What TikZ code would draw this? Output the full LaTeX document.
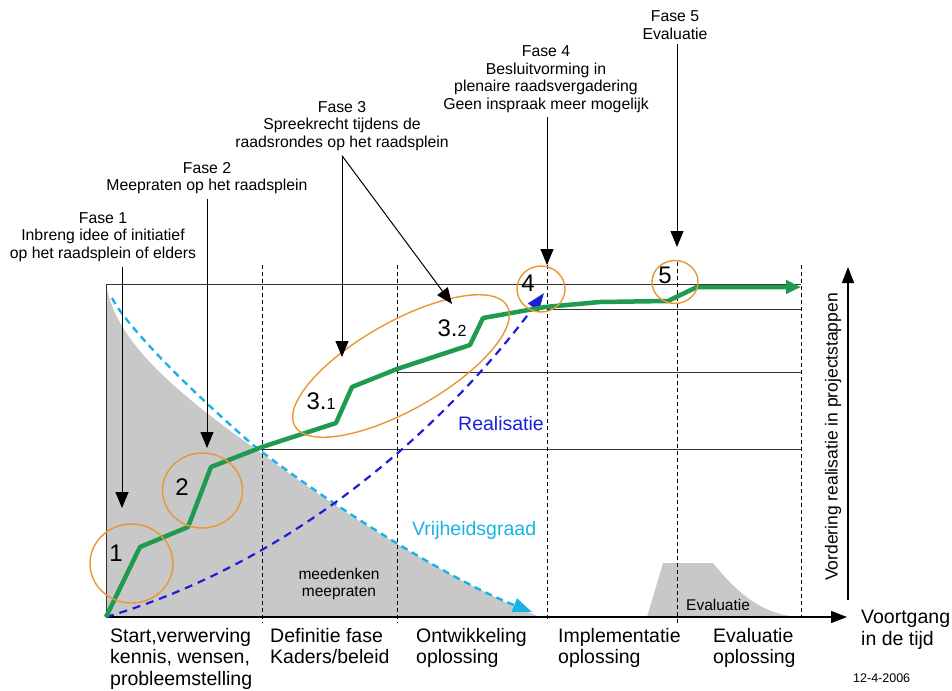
\documentclass[tikz,border=0pt]{standalone}
\usepackage{fontspec}
\setmainfont{Liberation Sans}
\usetikzlibrary{arrows.meta}
\definecolor{lijngroen}{RGB}{30,155,80}
\definecolor{ringoranje}{RGB}{235,150,50}
\definecolor{vlakgrijs}{RGB}{200,200,200}
\definecolor{vrijcyaan}{RGB}{25,178,230}
\definecolor{realblauw}{RGB}{30,30,215}

\begin{document}
\begin{tikzpicture}[x=1pt, y=-1pt,
    fase/.style={align=center, inner sep=0pt, outer sep=5pt, font=\fontsize{15.8}{17.5}\selectfont},
    stap/.style={align=left, anchor=north west, inner sep=0pt, font=\fontsize{19.5}{21.5}\selectfont},
    nummer/.style={inner sep=0pt, font=\fontsize{24}{24}\selectfont},
    klein/.style={inner sep=0pt, font=\fontsize{15.5}{17}\selectfont},
    ring/.style={draw=ringoranje, line width=1.4pt},
    pijl/.style={-{Triangle[length=16pt,width=13pt]}, line width=1pt},
    as/.style={-{Triangle[length=16pt,width=12pt]}, line width=1.2pt},
    raster/.style={line width=0.9pt, draw=black!80},
    streep/.style={line width=0.9pt, dash pattern=on 4pt off 3pt}
]
\useasboundingbox (0,0) rectangle (952,690);

\fill[vlakgrijs] (106,284) .. controls (114,330) and (150,375) .. (257,450)
    .. controls (350,520) and (460,585) .. (540,617) -- (106,617) -- cycle;
\fill[vlakgrijs] (647,617) -- (663,563) -- (713,563) .. controls (735,590) and (760,615) .. (800,617) -- cycle;

\draw[raster] (106,617) -- (106,284) -- (801,284);
\draw[raster] (547,309) -- (801,309);
\draw[raster] (397,372) -- (801,372);
\draw[raster] (262,449) -- (801,449);
\foreach \x/\a/\b in {262/265/623, 397/265/623, 547/265/622, 677/262/623, 801/265/617}
    \draw[streep] (\x,\a) -- (\x,\b);

\draw[as] (106,617) -- (847,617);
\draw[as] (848,600) -- (848,267);

\draw[vrijcyaan, line width=2.4pt, dash pattern=on 7pt off 5pt, -{Triangle[length=19pt,width=14pt]}]
    (112,298) .. controls (122,318) and (165,368) .. (253,445)
    .. controls (330,505) and (450,580) .. (532,612);
\draw[realblauw, line width=2.2pt, dash pattern=on 8pt off 6pt, -{Triangle[length=18pt,width=13pt]}]
    (106,617) .. controls (300,560) and (450,420) .. (544,293);

\draw[lijngroen, line width=4.5pt, line join=round, -{Triangle[length=15pt,width=13pt]}]
    plot coordinates {(106,617) (140,547) (188,527) (211,467) (262,447) (336,423) (352,387) (397,369) (470,345) (483,318) (545,307) (600,302) (668,301) (697,287) (801,287)};

\draw[ring] (131.5,563.5) ellipse [x radius=41.5pt, y radius=39.5pt];
\draw[ring] (202.5,490.5) ellipse [x radius=40pt, y radius=37.5pt];
\draw[ring, rotate around={29.5:(401,366)}] (401,366) ellipse [x radius=122pt, y radius=44pt];
\draw[ring] (541,289) ellipse [x radius=24pt, y radius=23pt];
\draw[ring] (675,282) ellipse [x radius=23pt, y radius=21.5pt];

\node[nummer] (n1) at (116,553) {1};
\node[nummer] (n2) at (182,487) {2};
\node[nummer] (n31) at (321,401) {3.{\fontsize{16}{16}\selectfont 1}};
\node[nummer] (n32) at (452,328) {3.{\fontsize{16}{16}\selectfont 2}};
\node[nummer] (n4) at (528,283) {4};
\node[nummer] (n5) at (665,275) {5};

\node[fase] (fase1) at (103,237) {Fase 1\\Inbreng idee of initiatief\\op het raadsplein of elders};
\node[fase] (fase2) at (207,178) {Fase 2\\Meepraten op het raadsplein};
\node[fase] (fase3) at (342,126) {Fase 3\\Spreekrecht tijdens de\\raadsrondes op het raadsplein};
\node[fase] (fase4) at (546,79) {Fase 4\\Besluitvorming in\\plenaire raadsvergadering\\Geen inspraak meer mogelijk};
\node[fase] (fase5) at (675,25) {Fase 5\\Evaluatie};

\coordinate (tip1) at (122,508);
\coordinate (tip2) at (207,448);
\coordinate (tip31) at (342,357);
\coordinate (tip32) at (452,304);
\coordinate (tip4) at (547,265);
\coordinate (tip5) at (677,247);
\draw[pijl] (fase1.south -| tip1) -- (tip1);
\draw[pijl] (fase2.south -| tip2) -- (tip2);
\draw[pijl] (fase3.south -| tip31) -- (tip31);
\draw[pijl] (fase3.south -| tip31) -- (tip32);
\draw[pijl] (fase4.south -| tip4) -- (tip4);
\draw[pijl] (fase5.south -| tip5) -- (tip5);

\node[stap] (start) at (110,628) {Start,verwerving\\kennis, wensen,\\probleemstelling};
\node[stap] (definitie) at (270,628) {Definitie fase\\Kaders/beleid};
\node[stap] (ontwikkeling) at (416,628) {Ontwikkeling\\oplossing};
\node[stap] (implementatie) at (558,628) {Implementatie\\oplossing};
\node[stap] (evaluatie) at (713,628) {Evaluatie\\oplossing};
\node[stap] (voortgang) at (861,610) {Voortgang\\in de tijd};

\node[klein, align=center] (meedenken) at (339,584) {meedenken\\meepraten};
\node[klein, anchor=base west] (evalvlak) at (686,610) {Evaluatie};
\node[inner sep=0pt, anchor=base west, text=vrijcyaan, font=\fontsize{19.5}{21.5}\selectfont] (vrijheid) at (412,535) {Vrijheidsgraad};
\node[inner sep=0pt, anchor=base west, text=realblauw, font=\fontsize{19.5}{21.5}\selectfont] (realisatie) at (458,430) {Realisatie};
\node[inner sep=0pt, rotate=90, font=\fontsize{17.5}{19}\selectfont] (vordering) at (833,437) {Vordering realisatie in projectstappen};
\node[inner sep=0pt, anchor=west, font=\fontsize{12.5}{14}\selectfont] (datum) at (853,678) {12-4-2006};
\end{tikzpicture}
\end{document}
